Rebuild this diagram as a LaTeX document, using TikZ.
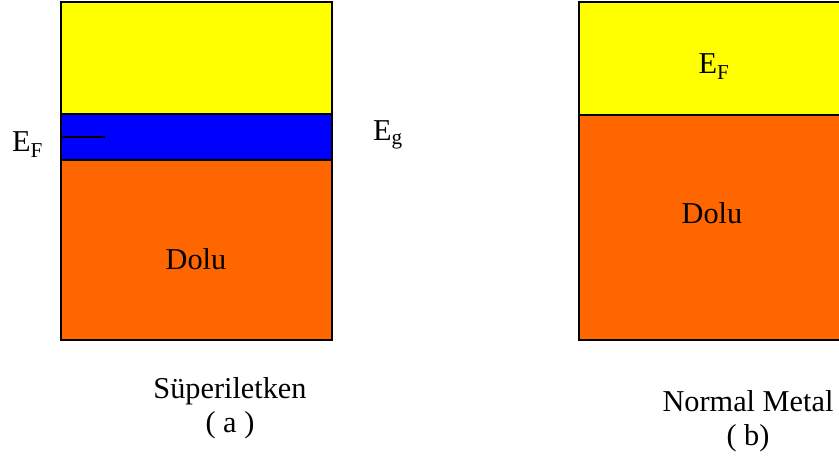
\documentclass[tikz,border=0pt]{standalone}
\usepackage{fontspec}
\setmainfont{Liberation Serif}
\definecolor{bandyellow}{HTML}{FFFF00}
\definecolor{bandblue}{HTML}{0000FF}
\definecolor{bandorange}{HTML}{FF6600}
\begin{document}
\begin{tikzpicture}[x=1pt,y=-1pt,
  band/.style={draw=black,line width=1.5pt,anchor=north west,inner sep=0pt,outer sep=0pt,rectangle},
  lbl/.style={font=\fontsize{30.3}{34}\selectfont,inner sep=0pt}]
\useasboundingbox (0,0) rectangle (839,457);
\begin{scope}
\clip (0,0) rectangle (839,457);
% left (superconductor)
\node[band,fill=bandyellow,minimum width=271pt,minimum height=112pt] (ly) at (61,2) {};
\node[band,fill=bandblue,minimum width=271pt,minimum height=46pt] (lb) at (61,114) {};
\node[band,fill=bandorange,minimum width=271pt,minimum height=180pt] (lo) at (61,160) {};
% right (normal metal)
\node[band,fill=bandyellow,minimum width=275pt,minimum height=113pt] (ry) at (579,2) {};
\node[band,fill=bandorange,minimum width=275pt,minimum height=225pt] (ro) at (579,115) {};
\end{scope}
\coordinate (efend) at (105,137);
\coordinate (efstart) at (60,137);
\draw[line width=1.2pt] (efstart) -- (efend);
% labels
\node[lbl,anchor=base west] (lef) at (12,152) {E\textsubscript{F}};
\node[lbl,anchor=base west] (leg) at (373,141) {E\textsubscript{g}};
\node[lbl,anchor=base] (ref) at (714,74) {E\textsubscript{F}};
\node[lbl,anchor=base] (ldolu) at (196,270) {Dolu};
\node[lbl,anchor=base] (rdolu) at (712,224) {Dolu};
\node[lbl,anchor=base] (lname) at (230,399) {Süperiletken};
\node[lbl,anchor=base] (lsub) at (230,432) {( a )};
\node[lbl,anchor=base] (rname) at (748,411) {Normal Metal};
\node[lbl,anchor=base] (rsub) at (748,445) {( b)};
\end{tikzpicture}
\end{document}
